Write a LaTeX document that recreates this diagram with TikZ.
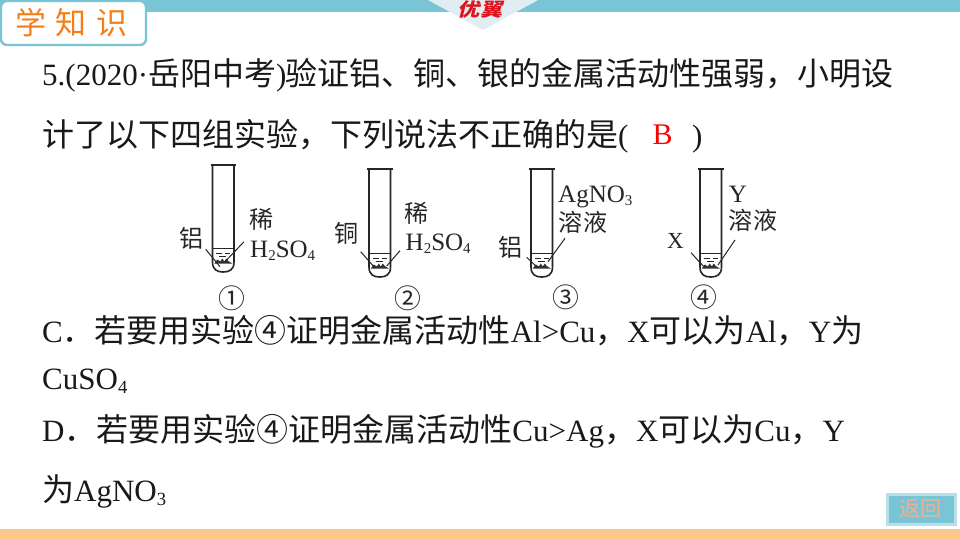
\documentclass[tikz,border=0pt]{standalone}
\usepackage{fontspec}
\setmainfont{Liberation Serif}
\newfontfamily\cjk[Scale=1.032]{Noto Sans CJK SC}
\definecolor{teal0}{HTML}{7AC5D5}
\definecolor{teal1}{HTML}{B5E0EC}
\definecolor{tri}{HTML}{E0EEF4}
\definecolor{band}{HTML}{FFC78A}
\definecolor{orange0}{HTML}{F57F17}
\definecolor{redlogo}{HTML}{E0141E}
\definecolor{ret}{HTML}{F0B090}
\newcommand{\fsz}[1]{\fontsize{#1pt}{#1pt}\selectfont}
\newcommand{\sbs}[1]{\raisebox{-0.3ex}{\fontsize{0.6em}{0.6em}\selectfont #1}}
\tikzset{
 x=1pt,y=-1pt,
 body/.style={anchor=base west,inner sep=0,font=\fsz{31},text=black!90},
 lab/.style={anchor=center,inner sep=0,font=\fsz{25},text=black!85},
 labc/.style={anchor=center,inner sep=0,font=\fsz{23.3}\cjk,text=black!85},
 num/.style={anchor=center,inner sep=0,font=\fsz{26}\cjk,text=black!85},
 glass/.style={line width=1.6pt,black!85},
 leader/.style={line width=1pt,black!85},
}
% \testtube{left}{top}{liquid level}{bottom}
\newcommand{\testtube}[4]{%
 \pgfmathsetmacro{\rr}{#1+21.5}\pgfmathsetmacro{\mm}{#1+10.75}%
 \pgfmathsetmacro{\sb}{#4-10}%
 \draw[line width=1.8pt,black!85] (#1-2,#2) -- (\rr+2,#2);
 \draw[glass] (#1,#2) -- (#1,\sb) .. controls (#1,#4-2) and (#1+5,#4) .. (\mm,#4) .. controls (\rr-5,#4) and (\rr,#4-2) .. (\rr,\sb) -- (\rr,#2);
 \draw[line width=1pt,black!85] (#1,#3) -- (\rr,#3);
 \draw[line width=1pt,black!85] (\mm-7,#3+5) -- (\mm-1,#3+5) (\mm+2,#3+5) -- (\mm+7,#3+5) (\mm-4,#3+8.5) -- (\mm+3,#3+8.5);
 \fill[black!80] (\mm-9,#3+15.5) -- (\mm-6,#3+11.5) -- (\mm-3,#3+13.5) -- (\mm-1,#3+10.5) -- (\mm+1,#3+13.5) -- (\mm+3,#3+10.5) -- (\mm+5,#3+13) -- (\mm+9,#3+15.5) -- cycle;
}
\begin{document}
\begin{tikzpicture}
\useasboundingbox (0,0) rectangle (960,540);
\fill[white] (0,0) rectangle (960,540);
% top bar
\fill[teal0] (0,0) rectangle (960,12);
\fill[tri] (428,0) -- (538,0) -- (483,30) -- cycle;
\node[inner sep=0,text=redlogo,xslant=0.25,xscale=1.2,font=\fsz{18}\cjk\bfseries] (logo) at (482,9.5) {优翼};
% tab
\draw[teal0,fill=white,line width=2.4pt,rounded corners=6pt] (1,1) rectangle (146,45);
\node[inner sep=0,text=orange0,font=\fsz{30}\cjk] (t1) at (31,23) {学};
\node[inner sep=0,text=orange0,font=\fsz{30}\cjk] (t2) at (71,23) {知};
\node[inner sep=0,text=orange0,font=\fsz{30}\cjk] (t3) at (112,23) {识};
% bottom band
\fill[band] (0,529) rectangle (960,540);
% return button
\draw[teal1,fill=teal0,line width=3pt] (887.5,494.5) rectangle (955.5,524.5);
\node[inner sep=0,text=ret,font=\fsz{20.5}\cjk] (ret) at (920.5,509) {返回};
% text
\node[body] (l1) at (42,85.5) {5.(2020·{\cjk 岳阳中考})\hspace{-0.5pt}{\cjk 验证铝、铜、银的金属活动性强弱，小明设}};
\node[body] (l2) at (42,147) {\cjk 计了以下四组实验，下列说法不正确的是\rmfamily(};
\node[body,font=\fsz{30},text=red] (ans) at (652.5,145) {B};
\node[body] (l2b) at (692,147) {)};
\node[body] (l3) at (42,342) {C{\cjk ．若要用实验④证明金属活动性}Al>Cu{\cjk ，}X{\cjk 可以为}Al{\cjk ，}Y{\cjk 为}};
\node[body] (l4) at (42,389) {CuSO\sbs{4}};
\node[body] (l5) at (42,441) {D{\cjk ．若要用实验④证明金属活动性}Cu>Ag{\cjk ，}X{\cjk 可以为}Cu{\cjk ，}Y};
\node[body] (l6) at (42,501) {{\cjk 为}AgNO\sbs{3}};
% tubes
\testtube{212.5}{165}{248}{272}
\testtube{369}{169}{253}{277}
\testtube{531}{169}{253}{277}
\testtube{700}{169}{253}{277}
\coordinate (a1) at (205.7,249.3); \coordinate (a2) at (220,266.7);
\coordinate (a3) at (244,241.7);   \coordinate (a4) at (225,261.7);
\coordinate (b1) at (360.7,251.7); \coordinate (b2) at (375,268);
\coordinate (b3) at (400,250.7);   \coordinate (b4) at (386.7,266);
\coordinate (c1) at (526.7,257.3); \coordinate (c2) at (538,268);
\coordinate (c3) at (565,238.3);   \coordinate (c4) at (548,261.7);
\coordinate (d1) at (691,252.7);   \coordinate (d2) at (705,268);
\coordinate (d3) at (735,240);     \coordinate (d4) at (718,265);
\draw[leader] (a1)--(a2) (a3)--(a4) (b1)--(b2) (b3)--(b4) (c1)--(c2) (c3)--(c4) (d1)--(d2) (d3)--(d4);
% labels
\node[labc] (n1) at (192,238) {铝};
\node[labc] (n2) at (262,219) {稀};
\node[lab,anchor=base west] (n3) at (250,257) {H\sbs{2}SO\sbs{4}};
\node[num] (n4) at (232,298) {①};
\node[labc] (n5) at (347,233) {铜};
\node[labc] (n6) at (417,213) {稀};
\node[lab,anchor=base west] (n7) at (405.5,250) {H\sbs{2}SO\sbs{4}};
\node[num] (n8) at (408,298) {②};
\node[labc] (n9) at (511,247) {铝};
\node[lab,anchor=base west] (n10) at (558,202) {AgNO\sbs{3}};
\node[labc] (n11) at (583,222) {溶液};
\node[num] (n12) at (566,297) {③};
\node[lab,font=\fsz{23}] (n13) at (675.5,241) {X};
\node[lab] (n14) at (738,194) {Y};
\node[labc] (n15) at (753,220) {溶液};
\node[num] (n16) at (704,297) {④};
\end{tikzpicture}
\end{document}
